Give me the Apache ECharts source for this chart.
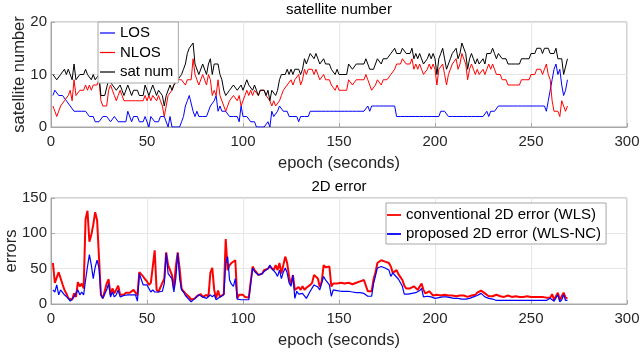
<!DOCTYPE html>
<html>
<head>
<meta charset="utf-8">
<script src="https://cdn.jsdelivr.net/npm/echarts@6/dist/echarts.min.js"></script>
<style>
  html, body { margin: 0; padding: 0; background: #fff; }
  #chart { width: 643px; height: 354px; }
</style>
</head>
<body>
<div id="chart"></div>
<script>
// first epoch of the recording, the rest follow one per second
const START_EPOCH = 1

// satellite counts per epoch
const los = [
  6, 7, 7, 6, 6, 6, 6, 5, 5, 4,
  4, 3, 3, 3, 3, 3, 3, 3, 3, 2,
  2, 2, 1, 1, 1, 1, 2, 2, 2, 2,
  1, 1, 2, 2, 1, 1, 1, 1, 1, 3,
  3, 1, 2, 2, 2, 1, 1, 1, 2, 2,
  0, 2, 2, 1, 1, 1, 2, 2, 2, 2,
  0, 2, 0, 0, 0, 0, 0, 1, 2, 4,
  5, 6, 6, 3, 2, 3, 2, 2, 2, 2,
  2, 2, 4, 4, 5, 6, 3, 4, 3, 3,
  3, 3, 2, 2, 2, 2, 2, 1, 4, 2,
  2, 2, 2, 1, 1, 1, 0, 0, 0, 0,
  0, 0, 1, 0, 3, 2, 2, 3, 4, 4,
  3, 3, 3, 2, 2, 2, 2, 2, 1, 2,
  2, 2, 2, 2, 3, 3, 3, 3, 3, 3,
  3, 3, 3, 3, 3, 3, 3, 3, 3, 3,
  3, 3, 3, 3, 3, 3, 3, 3, 3, 3,
  3, 3, 3, 3, 4, 3, 4, 4, 4, 4,
  4, 4, 4, 4, 4, 4, 4, 4, 4, 2,
  2, 2, 2, 2, 2, 2, 2, 2, 2, 2,
  2, 2, 2, 2, 2, 2, 2, 2, 2, 2,
  2, 2, 3, 3, 3, 3, 2, 2, 2, 2,
  2, 2, 2, 2, 2, 2, 2, 2, 2, 2,
  2, 2, 2, 2, 2, 2, 3, 2, 3, 3,
  3, 3, 4, 4, 4, 4, 4, 4, 4, 4,
  4, 4, 4, 4, 4, 4, 4, 4, 4, 4,
  4, 4, 4, 4, 4, 4, 4, 3, 5, 5,
  9, 11, 12, 10, 11, 8, 6, 7, 9
]

const nlos = [
  4, 3, 2, 3, 4, 4, 5, 5, 6, 7,
  5, 9, 6, 6, 7, 7, 7, 8, 7, 8,
  7, 8, 8, 8, 9, 5, 4, 4, 4, 7,
  8, 7, 6, 5, 6, 7, 6, 5, 5, 5,
  5, 5, 5, 5, 5, 5, 5, 5, 6, 5,
  6, 5, 6, 6, 5, 6, 5, 4, 2, 4,
  6, 6, 7, 8, 8, 9, 9, 9, 9, 8,
  9, 9, 9, 13, 10, 9, 8, 8, 10, 10,
  8, 10, 9, 6, 7, 6, 9, 6, 6, 4,
  3, 3, 5, 5, 6, 6, 5, 6, 4, 5,
  6, 7, 6, 7, 6, 7, 7, 6, 7, 7,
  7, 6, 6, 5, 4, 5, 4, 4, 5, 6,
  7, 7, 8, 8, 9, 8, 9, 9, 10, 8,
  9, 11, 10, 11, 11, 11, 10, 11, 10, 9,
  9, 10, 9, 9, 9, 8, 8, 7, 8, 7,
  7, 7, 7, 7, 9, 9, 8, 8, 9, 9,
  9, 9, 9, 10, 9, 8, 7, 7, 8, 9,
  9, 8, 9, 9, 9, 9, 10, 10, 11, 12,
  12, 12, 13, 13, 12, 12, 12, 13, 11, 12,
  11, 12, 11, 10, 10, 11, 12, 11, 12, 11,
  8, 11, 11, 12, 10, 8, 10, 11, 12, 12,
  13, 11, 12, 14, 14, 12, 9, 11, 12, 11,
  10, 11, 10, 10, 11, 10, 11, 12, 11, 12,
  11, 10, 10, 10, 9, 9, 9, 8, 8, 8,
  8, 8, 8, 8, 9, 9, 9, 9, 9, 10,
  10, 10, 11, 11, 11, 10, 11, 12, 10, 9,
  5, 3, 3, 3, 2, 5, 4, 3, 4
]

const satNum = [
  10, 10, 9, 9, 10, 10, 11, 10, 11, 11,
  9, 12, 9, 9, 10, 10, 10, 11, 10, 10,
  9, 10, 9, 9, 10, 6, 6, 6, 6, 9,
  9, 8, 8, 7, 7, 8, 7, 6, 6, 8,
  8, 6, 7, 7, 7, 6, 6, 6, 8, 7,
  6, 7, 8, 7, 6, 7, 7, 6, 4, 6,
  6, 8, 7, 8, 8, 9, 9, 10, 11, 12,
  14, 15, 15, 16, 12, 12, 10, 10, 12, 12,
  10, 12, 13, 10, 12, 12, 12, 10, 9, 7,
  6, 6, 7, 7, 8, 8, 7, 7, 8, 7,
  8, 9, 8, 8, 7, 8, 7, 6, 7, 7,
  7, 6, 7, 5, 7, 7, 6, 7, 9, 10,
  10, 10, 11, 10, 11, 10, 11, 11, 11, 10,
  11, 13, 12, 13, 14, 14, 13, 14, 13, 12,
  12, 13, 12, 12, 12, 11, 11, 10, 11, 10,
  10, 10, 10, 10, 12, 12, 11, 11, 12, 12,
  12, 12, 12, 13, 13, 11, 11, 11, 12, 13,
  13, 12, 13, 13, 13, 13, 14, 14, 15, 14,
  14, 14, 15, 15, 14, 14, 14, 15, 13, 14,
  13, 14, 13, 12, 12, 13, 14, 13, 14, 13,
  10, 13, 14, 15, 13, 11, 12, 13, 14, 14,
  15, 13, 14, 16, 16, 14, 11, 13, 14, 13,
  12, 13, 12, 12, 13, 12, 14, 14, 14, 15,
  14, 13, 14, 14, 13, 13, 13, 12, 12, 12,
  12, 12, 12, 12, 13, 13, 13, 13, 13, 14,
  14, 14, 15, 15, 15, 14, 15, 15, 15, 14,
  14, 14, 15, 13, 13, 13, 10, 10, 13
]

// 2D positioning error per epoch
const errWLS = [
  58, 30, 28, 45, 47, 28, 20, 15, 8, 6,
  6, 15, 10, 31, 25, 29, 22, 120, 132, 88,
  98, 112, 130, 119, 121, 13, 8, 10, 29, 35,
  13, 22, 15, 17, 26, 13, 14, 13, 16, 18,
  16, 18, 20, 18, 12, 45, 42, 39, 35, 32,
  27, 30, 31, 76, 20, 17, 24, 22, 36, 73,
  55, 55, 41, 22, 53, 73, 50, 22, 18, 15,
  13, 10, 6, 7, 8, 11, 13, 14, 10, 12,
  13, 10, 44, 51, 20, 8, 19, 10, 12, 14,
  92, 48, 55, 58, 60, 62, 8, 13, 12, 13,
  10, 8, 9, 10, 53, 48, 45, 41, 41, 43,
  48, 46, 50, 53, 53, 48, 55, 48, 58, 43,
  45, 67, 58, 39, 27, 41, 20, 22, 24, 20,
  25, 20, 23, 22, 27, 30, 41, 39, 36, 24,
  32, 55, 52, 51, 53, 25, 29, 29, 29, 29,
  30, 28, 29, 29, 30, 30, 28, 29, 30, 31,
  32, 33, 34, 33, 18, 18, 18, 35, 45, 58,
  60, 62, 61, 60, 59, 58, 53, 44, 46, 48,
  42, 38, 34, 26, 22, 22, 22, 24, 25, 23,
  20, 18, 29, 20, 15, 16, 18, 15, 12, 10,
  13, 14, 12, 12, 13, 12, 12, 13, 12, 11,
  11, 10, 12, 13, 12, 11, 10, 11, 12, 12,
  13, 16, 18, 19, 17, 15, 13, 11, 10, 11,
  12, 13, 12, 11, 10, 10, 11, 12, 11, 10,
  10, 11, 10, 10, 11, 10, 10, 11, 10, 10,
  10, 10, 10, 10, 10, 10, 10, 9, 8, 9,
  14, 6, 7, 16, 6, 8, 16, 9, 8
]

const errWLSNC = [
  20, 17, 27, 13, 20, 18, 13, 11, 8, 4,
  5, 10, 9, 20, 13, 17, 13, 34, 53, 70,
  55, 36, 52, 62, 51, 13, 8, 10, 20, 29,
  10, 17, 10, 13, 20, 10, 12, 12, 13, 13,
  12, 13, 14, 13, 4, 43, 35, 27, 27, 27,
  27, 17, 20, 17, 17, 17, 17, 18, 29, 72,
  43, 43, 36, 17, 36, 72, 36, 20, 17, 12,
  10, 6, 3, 5, 8, 10, 13, 12, 10, 10,
  8, 9, 13, 10, 13, 6, 8, 10, 10, 13,
  58, 67, 34, 28, 25, 36, 7, 6, 6, 6,
  6, 7, 6, 7, 51, 46, 44, 41, 41, 43,
  46, 48, 50, 55, 50, 48, 44, 39, 48, 36,
  45, 51, 44, 30, 25, 41, 8, 18, 14, 12,
  15, 14, 8, 10, 18, 20, 27, 27, 24, 20,
  22, 39, 34, 32, 27, 11, 20, 20, 19, 19,
  18, 18, 18, 18, 18, 17, 17, 17, 16, 16,
  16, 15, 15, 15, 11, 11, 11, 29, 40, 51,
  52, 53, 52, 51, 50, 48, 39, 44, 41, 39,
  35, 30, 25, 14, 14, 14, 14, 15, 16, 16,
  17, 19, 22, 10, 10, 11, 11, 10, 9, 8,
  9, 9, 9, 10, 10, 10, 10, 9, 8, 8,
  8, 8, 7, 7, 7, 7, 8, 8, 9, 10,
  10, 12, 14, 15, 13, 10, 9, 8, 8, 7,
  6, 5, 5, 5, 5, 5, 5, 5, 5, 5,
  5, 5, 5, 5, 5, 5, 5, 5, 5, 5,
  5, 5, 5, 5, 5, 5, 5, 5, 5, 8,
  8, 4, 5, 13, 3, 6, 13, 5, 5
]

const FONT = "'Liberation Sans', Arial, Helvetica, sans-serif"
const TEXT = '#262626'
const BOX = '#a6a6a6'
const GRIDLINE = '#e6e6e6'

const toPoints = arr => arr.map((v, i) => [START_EPOCH + i, v])

const xAxisFor = gridIndex => ({
  gridIndex,
  type: 'value',
  min: 0,
  max: 300,
  interval: 50,
  name: 'epoch (seconds)',
  nameLocation: 'middle',
  nameGap: 28,
  nameMoveOverlap: false,
  nameTextStyle: { fontFamily: FONT, fontSize: 16.5, color: TEXT },
  axisLine: { show: true, onZero: false, lineStyle: { color: BOX } },
  axisTick: { show: true, inside: true, length: 4, lineStyle: { color: BOX } },
  axisLabel: { fontFamily: FONT, fontSize: 15, color: TEXT, margin: 7 },
  splitLine: { show: true, lineStyle: { color: GRIDLINE } }
})

// nameGap differs per axis: the label sits beyond the widest tick label
const yAxisFor = (gridIndex, name, max, interval, nameGap) => ({
  gridIndex,
  type: 'value',
  min: 0,
  max,
  interval,
  name,
  nameLocation: 'middle',
  nameGap,
  nameMoveOverlap: false,
  nameTextStyle: { fontFamily: FONT, fontSize: 16.5, color: TEXT },
  axisLine: { show: true, lineStyle: { color: BOX } },
  axisTick: { show: true, inside: true, length: 4, lineStyle: { color: BOX } },
  axisLabel: { fontFamily: FONT, fontSize: 15, color: TEXT, margin: 4 },
  splitLine: { show: true, lineStyle: { color: GRIDLINE } }
})

const lineSeries = (name, arr, xi, color, width) => ({
  name,
  type: 'line',
  xAxisIndex: xi,
  yAxisIndex: xi,
  data: toPoints(arr),
  symbol: 'none',
  animation: false,
  lineStyle: { color, width },
  itemStyle: { color }
})

const chart = echarts.init(document.getElementById('chart'), null, { renderer: 'canvas' })

const gridBase = {
  left: 51,
  right: 16,
  containLabel: false,
  outerBoundsMode: 'none',
  show: true,
  borderColor: BOX,
  borderWidth: 1,
  backgroundColor: 'transparent'
}

const option = {
  backgroundColor: '#fff',
  animation: false,
  title: [
    {
      text: 'satellite number',
      left: 339,
      top: 2,
      textAlign: 'center',
      padding: 0,
      textStyle: { fontFamily: FONT, fontSize: 15, fontWeight: 'normal', color: '#000' }
    },
    {
      text: '2D error',
      left: 339,
      top: 179,
      textAlign: 'center',
      padding: 0,
      textStyle: { fontFamily: FONT, fontSize: 15, fontWeight: 'normal', color: '#000' }
    }
  ],
  grid: [
    { ...gridBase, top: 22, height: 105 },
    { ...gridBase, top: 198, height: 106 }
  ],
  legend: [
    {
      data: ['LOS', 'NLOS', 'sat num'],
      orient: 'vertical',
      left: 98,
      top: 22,
      padding: [2, 5, 2, 2],
      icon: 'rect',
      itemGap: 1.5,
      itemWidth: 15,
      itemHeight: 1.2,
      itemTextGap: 4,
      backgroundColor: '#fff',
      borderColor: BOX,
      borderWidth: 1,
      textStyle: { fontFamily: FONT, fontSize: 15, color: '#000', lineHeight: 18 }
    },
    {
      data: ['conventional 2D error (WLS)', 'proposed 2D error (WLS-NC)'],
      orient: 'vertical',
      left: 386,
      top: 203,
      padding: [3, 5, 1, 1],
      icon: 'rect',
      itemGap: 1,
      itemWidth: 14,
      itemHeight: 1.8,
      itemTextGap: 7,
      backgroundColor: '#fff',
      borderColor: BOX,
      borderWidth: 1,
      textStyle: { fontFamily: FONT, fontSize: 15, color: '#000', lineHeight: 18 }
    }
  ],
  xAxis: [xAxisFor(0), xAxisFor(1)],
  yAxis: [
    yAxisFor(0, 'satellite number', 20, 10, 23),
    yAxisFor(1, 'errors', 150, 50, 31)
  ],
  series: [
    lineSeries('LOS', los, 0, '#0000ff', 1),
    lineSeries('NLOS', nlos, 0, '#ff0000', 1),
    lineSeries('sat num', satNum, 0, '#000000', 1),
    lineSeries('conventional 2D error (WLS)', errWLS, 1, '#ff0000', 2),
    lineSeries('proposed 2D error (WLS-NC)', errWLSNC, 1, '#0000ff', 1.2)
  ]
}

chart.setOption(option)
</script>
</body>
</html>
